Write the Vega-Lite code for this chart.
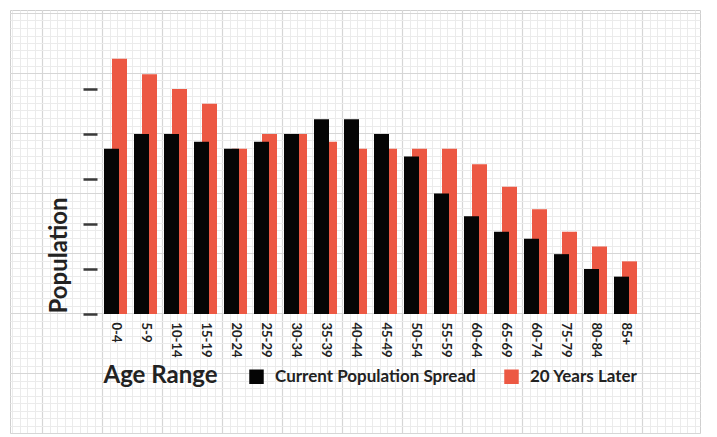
{
  "$schema": "https://vega.github.io/schema/vega-lite/v6.json",
  "width": 690,
  "height": 423,
  "autosize": {"type": "none"},
  "padding": {"left": 10, "top": 10, "right": 17, "bottom": 4},
  "background": "white",
  "config": {
    "view": {"stroke": "#cfcfcf", "strokeWidth": 1},
    "font": "Lato"
  },
  "resolve": {
    "scale": {"x": "independent", "y": "independent"},
    "axis": {"x": "independent", "y": "independent"}
  },
  "layer": [
    {
      "data": {"values": [{"g": 0}]},
      "mark": {"type": "point", "opacity": 0},
      "encoding": {
        "x": {"field": "g", "type": "quantitative",
              "scale": {"domain": [-4.267, 87.733], "nice": false, "zero": false},
              "axis": {"orient": "top", "grid": true, "gridColor": "#ebebeb", "gridWidth": 1, "tickCount": 92, "labels": false, "ticks": false, "domain": false, "title": null}},
        "y": {"field": "g", "type": "quantitative",
              "scale": {"domain": [0, 56.4], "nice": false, "zero": false},
              "axis": {"orient": "right", "grid": true, "gridColor": "#ebebeb", "gridWidth": 1, "tickCount": 56, "labels": false, "ticks": false, "domain": false, "title": null}}
      }
    },
    {
      "data": {"values": [{"g": 0}]},
      "mark": {"type": "point", "opacity": 0},
      "encoding": {
        "x": {"field": "g", "type": "quantitative",
              "scale": {"domain": [-0.5333, 10.9667], "nice": false, "zero": false},
              "axis": {"orient": "top", "grid": true, "gridColor": "#d6d6d6", "gridWidth": 1.2, "tickCount": 11, "labels": false, "ticks": false, "domain": false, "title": null}},
        "y": {"field": "g", "type": "quantitative",
              "scale": {"domain": [0, 7.05], "nice": false, "zero": false},
              "axis": {"orient": "right", "grid": true, "gridColor": "#d6d6d6", "gridWidth": 1.2, "tickCount": 7, "labels": false, "ticks": false, "domain": false, "title": null}}
      }
    },
    {
      "data": {"values": [
        {"age": "0-4", "series": "Current Population Spread", "value": 3.67},
        {"age": "5-9", "series": "Current Population Spread", "value": 4.0},
        {"age": "10-14", "series": "Current Population Spread", "value": 4.0},
        {"age": "15-19", "series": "Current Population Spread", "value": 3.83},
        {"age": "20-24", "series": "Current Population Spread", "value": 3.67},
        {"age": "25-29", "series": "Current Population Spread", "value": 3.83},
        {"age": "30-34", "series": "Current Population Spread", "value": 4.0},
        {"age": "35-39", "series": "Current Population Spread", "value": 4.33},
        {"age": "40-44", "series": "Current Population Spread", "value": 4.33},
        {"age": "45-49", "series": "Current Population Spread", "value": 4.0},
        {"age": "50-54", "series": "Current Population Spread", "value": 3.5},
        {"age": "55-59", "series": "Current Population Spread", "value": 2.68},
        {"age": "60-64", "series": "Current Population Spread", "value": 2.17},
        {"age": "65-69", "series": "Current Population Spread", "value": 1.83},
        {"age": "60-74", "series": "Current Population Spread", "value": 1.67},
        {"age": "75-79", "series": "Current Population Spread", "value": 1.33},
        {"age": "80-84", "series": "Current Population Spread", "value": 1.0},
        {"age": "85+", "series": "Current Population Spread", "value": 0.83},
        {"age": "0-4", "series": "20 Years Later", "value": 5.67},
        {"age": "5-9", "series": "20 Years Later", "value": 5.33},
        {"age": "10-14", "series": "20 Years Later", "value": 5.0},
        {"age": "15-19", "series": "20 Years Later", "value": 4.67},
        {"age": "20-24", "series": "20 Years Later", "value": 3.67},
        {"age": "25-29", "series": "20 Years Later", "value": 4.0},
        {"age": "30-34", "series": "20 Years Later", "value": 4.0},
        {"age": "35-39", "series": "20 Years Later", "value": 3.83},
        {"age": "40-44", "series": "20 Years Later", "value": 3.67},
        {"age": "45-49", "series": "20 Years Later", "value": 3.67},
        {"age": "50-54", "series": "20 Years Later", "value": 3.67},
        {"age": "55-59", "series": "20 Years Later", "value": 3.67},
        {"age": "60-64", "series": "20 Years Later", "value": 3.33},
        {"age": "65-69", "series": "20 Years Later", "value": 2.83},
        {"age": "60-74", "series": "20 Years Later", "value": 2.33},
        {"age": "75-79", "series": "20 Years Later", "value": 1.83},
        {"age": "80-84", "series": "20 Years Later", "value": 1.5},
        {"age": "85+", "series": "20 Years Later", "value": 1.17}
      ]},
      "encoding": {
        "x": {"field": "age", "type": "nominal",
              "scale": {"domain": ["0-4","5-9","10-14","15-19","20-24","25-29","30-34","35-39","40-44","45-49","50-54","55-59","60-64","65-69","60-74","75-79","80-84","85+"],
                        "range": [94, 619], "paddingInner": 0.5, "paddingOuter": 0},
              "axis": {"orient": "bottom", "offset": -119, "labelAngle": 90, "labelAlign": "left", "labelBaseline": "middle",
                       "labelPadding": 8, "labelOffset": 4, "ticks": false, "domain": false, "grid": false,
                       "labelFont": "Lato", "labelFontSize": 13, "labelFontWeight": "bold", "labelColor": "#222",
                       "title": "Age Range", "titleFont": "Lato", "titleFontSize": 24, "titleFontWeight": "bold", "titleColor": "#222",
                       "titleAlign": "left", "titleBaseline": "alphabetic", "titleX": 93, "titleY": 68, "titleAngle": 0}},
        "y": {"field": "value", "type": "quantitative",
              "scale": {"domain": [0, 6.7556], "range": [304, 0], "nice": false, "zero": true},
              "axis": {"orient": "left", "offset": -87, "values": [0, 1, 2, 3, 4, 5], "tickSize": 14, "tickWidth": 2.5, "tickColor": "#3a3a3a",
                       "labels": false, "domain": false, "grid": false,
                       "title": "Population", "titleFont": "Lato", "titleFontSize": 24, "titleFontWeight": "bold", "titleColor": "#222",
                       "titleAngle": -90, "titleAlign": "center", "titleBaseline": "middle", "titleX": -38, "titleY": 245}},
        "color": {"field": "series", "type": "nominal",
                  "scale": {"domain": ["Current Population Spread", "20 Years Later"], "range": ["#050505", "#ec5843"]},
                  "legend": {"orient": "none", "legendX": 238, "legendY": 358, "direction": "horizontal", "title": null,
                             "symbolType": "square", "symbolSize": 210, "symbolStrokeWidth": 0, "symbolOpacity": 1,
                             "labelFont": "Lato", "labelFontSize": 17, "labelFontWeight": "bold", "labelColor": "#222",
                             "labelLimit": 400, "labelOffset": 10, "columnPadding": 27, "padding": 0}}
      },
      "layer": [
        {
          "transform": [{"filter": "datum.series === '20 Years Later'"}],
          "mark": {"type": "bar", "xOffset": 8}
        },
        {
          "transform": [{"filter": "datum.series === 'Current Population Spread'"}],
          "mark": {"type": "bar"}
        }
      ]
    }
  ]
}
